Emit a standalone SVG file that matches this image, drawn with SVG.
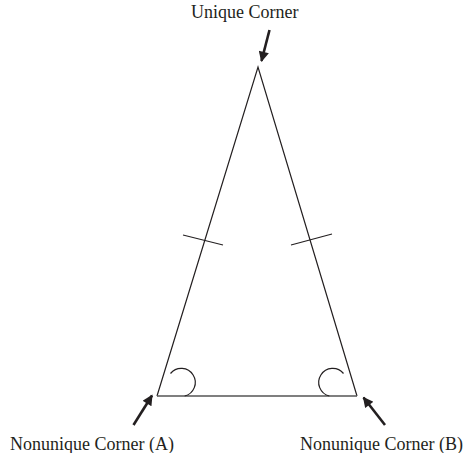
<svg xmlns="http://www.w3.org/2000/svg" width="464" height="453" viewBox="0 0 464 453">
<style>
.lbl{font-family:"Liberation Serif","Times New Roman",serif;font-size:18px;fill:#231f20}
.side{stroke:#231f20;stroke-width:1.2;fill:none}
.arrow{stroke:#231f20;stroke-width:2.6;fill:none;marker-end:url(#ah)}
</style>
<defs>
<marker id="ah" viewBox="0 0 10 10" refX="9" refY="5" markerWidth="4.6" markerHeight="4" markerUnits="strokeWidth" orient="auto">
<path d="M0,0 L10,5 L0,10 Z" fill="#231f20"/>
</marker>
</defs>
<rect width="464" height="453" fill="#fff"/>
<g id="triangle">
<path class="side" d="M157,396 L258,67 L357,396"/>
<path d="M157,396 L357,396" stroke="#555" stroke-width="1.4" fill="none"/>
<path class="side" d="M183,235 L223,245"/>
<path class="side" d="M291,245 L332,234"/>
<path class="side" d="M170.5,373.5 A14,14 0 1 1 184.7,396"/>
<path class="side" d="M343.5,373.5 A14,14 0 1 0 329.3,396"/>
</g>
<g id="connectors">
<path class="arrow" d="M269.5,30 L261.5,61"/>
<path class="arrow" d="M133.5,425 L152,395.5"/>
<path class="arrow" d="M385,425 L363.5,397.5"/>
</g>
<g id="unique"><text class="lbl" x="191" y="18">Unique Corner</text></g>
<g id="nodeA"><text class="lbl" x="10" y="450">Nonunique Corner (A)</text></g>
<g id="nodeB"><text class="lbl" x="300" y="450">Nonunique Corner (B)</text></g>
</svg>
